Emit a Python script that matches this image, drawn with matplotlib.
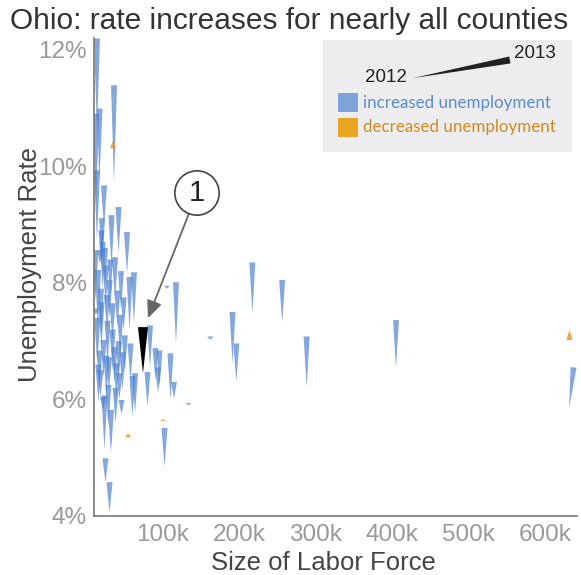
import numpy as np
import matplotlib
matplotlib.use("Agg")
import matplotlib.pyplot as plt
from matplotlib.patches import Polygon, Rectangle
from matplotlib.ticker import FuncFormatter
import matplotlib.transforms as mtransforms

plt.rcParams['font.family'] = ['Liberation Sans', 'DejaVu Sans']

# labor force (thousands) and unemployment rate (%) per county, 2012 -> 2013
lf_2012 = [13.6, 12.3, 16.9, 35.9, 22.8, 41.8, 32.6, 20.2, 52.9, 19.5,
           17.5, 37.2, 56.2, 62.0, 105.2, 117.0, 83.0, 90.2, 95.4, 109.8,
           114.4, 57.5, 47.0, 63.4, 79.7, 93.5, 133.4, 102.0, 24.7, 30.0,
           31.9, 23.4, 12.3, 19.5, 26.7, 33.9, 40.4, 16.9, 22.1, 29.3,
           36.5, 21.5, 45.7, 18.2, 39.1, 13.6, 11.5, 14.9, 34.6, 54.2,
           100.0, 162.0, 191.0, 196.0, 217.0, 256.0, 288.0, 405.0, 631.6, 632.0,
           27.4, 44.0, 50.0, 15.5, 28.5, 38.0, 25.0, 48.5, 21.0, 31.0,
           43.0, 60.0, 26.0, 34.0, 42.0, 18.8, 30.0, 45.0, 24.0, 14.0]
lf_2013 = [13.6, 12.3, 16.9, 35.9, 22.8, 41.8, 32.6, 20.2, 52.9, 19.5,
           17.5, 37.2, 56.2, 62.0, 105.2, 117.0, 83.0, 90.2, 95.4, 109.8,
           114.4, 57.5, 47.0, 63.4, 79.7, 93.5, 133.4, 102.0, 24.7, 30.0,
           31.9, 23.4, 12.3, 19.5, 26.7, 33.9, 40.4, 16.9, 22.1, 29.3,
           36.5, 21.5, 45.7, 18.2, 39.1, 13.6, 11.5, 14.9, 34.6, 54.2,
           100.0, 162.0, 191.0, 196.0, 217.0, 256.0, 288.0, 405.0, 637.4, 632.0,
           27.4, 44.0, 50.0, 15.5, 28.5, 38.0, 25.0, 48.5, 21.0, 31.0,
           43.0, 60.0, 26.0, 34.0, 42.0, 18.8, 30.0, 45.0, 24.0, 14.0]
rate_2012 = [10.62, 9.30, 9.76, 9.72, 8.95, 8.51, 8.27, 8.39, 8.16, 8.30,
             8.33, 7.70, 7.19, 7.31, 7.90, 6.96, 6.55, 6.33, 6.21, 5.99,
             6.02, 6.33, 6.16, 5.77, 5.87, 6.11, 5.90, 4.84, 4.57, 4.05,
             5.08, 5.13, 7.45, 6.90, 7.19, 7.02, 7.24, 6.33, 6.38, 6.16,
             6.28, 5.82, 5.75, 6.04, 5.99, 8.73, 7.70, 7.19, 10.44, 5.42,
             5.66, 7.02, 6.62, 6.30, 7.48, 7.32, 6.21, 6.54, 5.85, 7.19,
             6.60, 6.70, 6.45, 5.95, 5.55, 5.60, 7.60, 7.20, 7.90, 7.80,
             6.00, 5.70, 6.05, 6.50, 6.35, 7.10, 7.40, 7.55, 8.00, 6.60]
rate_2013 = [12.19, 10.90, 10.99, 11.39, 9.67, 9.30, 9.16, 9.11, 8.87, 8.90,
             8.56, 8.44, 8.10, 8.18, 7.95, 8.01, 7.27, 6.88, 6.84, 6.79,
             6.30, 6.96, 6.81, 6.45, 6.47, 6.55, 5.94, 5.51, 4.99, 4.58,
             5.82, 6.07, 7.56, 7.67, 7.79, 7.65, 7.87, 6.84, 7.02, 6.72,
             6.90, 6.04, 5.99, 6.50, 6.62, 9.93, 8.56, 8.22, 10.31, 5.35,
             5.63, 7.08, 7.50, 6.96, 8.35, 8.05, 7.08, 7.36, 6.55, 7.02,
             7.35, 7.45, 7.10, 6.60, 6.25, 6.20, 8.30, 7.75, 8.70, 8.40,
             6.45, 6.40, 6.75, 7.20, 7.00, 7.90, 8.05, 8.20, 8.60, 7.40]

# highlighted county
hl_lf = 73.8
hl_2012 = 6.45
hl_2013 = 7.24

x_ticks = [100, 200, 300, 400, 500, 600]
y_ticks = [4, 6, 8, 10, 12]

blue = '#4a7fcf'
orange = '#f0941c'


def wedge(p0, p1, width, trans):
    # thin end at p0, wide end (width px) at p1
    a = trans.transform(p0)
    b = trans.transform(p1)
    d = b - a
    length = np.hypot(d[0], d[1])
    if length < 1e-6:
        d = np.array([0.0, 1.0])
    else:
        d = d / length
    n = np.array([-d[1], d[0]])
    pts = np.array([a, b + n * width / 2, b - n * width / 2])
    return trans.inverted().transform(pts)


fig = plt.figure(figsize=(5.81, 5.75), dpi=100)
ax = fig.add_axes([94 / 581, 1 - 516 / 575, 483 / 581, 478 / 575])
ax.set_xlim(9.7, 641.9)
ax.set_ylim(4, 12.2)

for i in range(len(lf_2012)):
    up = rate_2013[i] > rate_2012[i]
    pts = wedge((lf_2012[i], rate_2012[i]), (lf_2013[i], rate_2013[i]), 6, ax.transData)
    ax.add_patch(Polygon(pts, closed=True, fc=blue if up else orange,
                         alpha=0.68 if up else 0.85, lw=0))

pts = wedge((hl_lf, hl_2012), (hl_lf, hl_2013), 10, ax.transData)
ax.add_patch(Polygon(pts, closed=True, fc='black', lw=0, zorder=5))

for s in ['top', 'right']:
    ax.spines[s].set_visible(False)
for s in ['left', 'bottom']:
    ax.spines[s].set_color('#777777')
    ax.spines[s].set_linewidth(1.2)

ax.set_xticks(x_ticks)
ax.set_yticks(y_ticks)
ax.xaxis.set_major_formatter(FuncFormatter(lambda v, p: '%dk' % v))
ax.yaxis.set_major_formatter(FuncFormatter(lambda v, p: '%d%%' % v))
ax.tick_params(length=0, labelsize=17.5, colors='#999999')
ax.tick_params(axis='y', pad=5)
ax.tick_params(axis='x', pad=6)

fig.text(323 / 581, 1 - 563 / 575, 'Size of Labor Force', ha='center', va='center',
         fontsize=18.5, color='#444444')
fig.text(30 / 581, 1 - 265 / 575, 'Unemployment Rate', ha='center', va='center',
         rotation=90, fontsize=18.5, color='#444444')
fig.text(289 / 581, 1 - 21 / 575, 'Ohio: rate increases for nearly all counties',
         ha='center', va='center', fontsize=21.5, color='#333333')

# legend box
ax.add_patch(Rectangle((0.474, 0.762), 0.516, 0.234, transform=ax.transAxes,
                       fc='#ededef', ec='none', zorder=6))
pts = wedge((0.660, 0.916), (0.861, 0.954), 7, ax.transAxes)
ax.add_patch(Polygon(pts, closed=True, fc='#222222', lw=0, transform=ax.transAxes, zorder=7))
ax.text(0.604, 0.918, '2012', transform=ax.transAxes, ha='center', va='center',
        fontsize=13.5, color='#222222', zorder=7)
ax.text(0.913, 0.967, '2013', transform=ax.transAxes, ha='center', va='center',
        fontsize=13.5, color='#222222', zorder=7)
ax.add_patch(Rectangle((0.505, 0.845), 0.042, 0.040, transform=ax.transAxes,
                       fc='#7ea3d9', ec='none', zorder=7))
ax.add_patch(Rectangle((0.505, 0.793), 0.042, 0.040, transform=ax.transAxes,
                       fc='#e9a422', ec='none', zorder=7))
ax.text(0.557, 0.865, 'increased unemployment', transform=ax.transAxes, va='center',
        fontsize=12.2, color='#5b8bd0', family=['Lato', 'DejaVu Sans'], zorder=7)
ax.text(0.557, 0.813, 'decreased unemployment', transform=ax.transAxes, va='center',
        fontsize=12.2, color='#d08a20', family=['Lato', 'DejaVu Sans'], zorder=7)

# callout for the highlighted county
tip = mtransforms.offset_copy(ax.transData, fig=fig, x=5, y=9, units='dots')
ax.annotate('1', xy=(hl_lf, hl_2013), xycoords=tip,
            xytext=((197 - 94) / 483, (516 - 193) / 478), textcoords='axes fraction',
            ha='center', va='center', fontsize=21, color='#222222',
            bbox=dict(boxstyle='circle,pad=0.28', fc='white', ec='#444444', lw=1.2),
            arrowprops=dict(arrowstyle='-|>,head_length=0.5,head_width=0.22',
                            color='#666666', lw=1.3, shrinkA=0, shrinkB=0),
            zorder=8)

fig.savefig('out.png', dpi=100)
